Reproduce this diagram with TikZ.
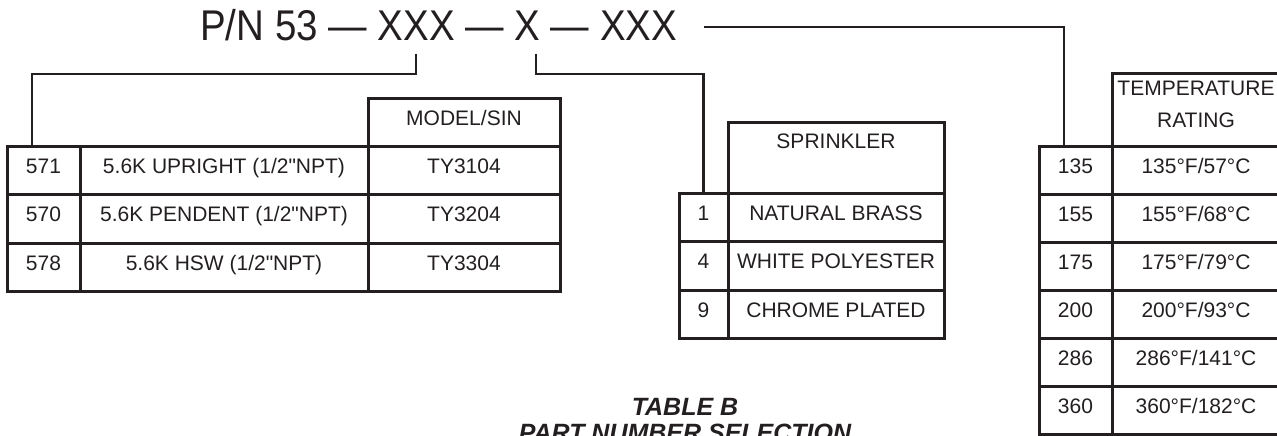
\documentclass[tikz,border=0pt]{standalone}
\usepackage{fontspec}
\setmainfont{Liberation Sans}
\usepackage{graphicx}
\definecolor{ink}{RGB}{35,31,32}
\newcommand\tabfnt{\fontsize{21}{32}\selectfont}
\newcommand\titfnt{\fontsize{43}{50}\selectfont}
\newcommand\capfnt{\fontsize{25}{26}\selectfont\bfseries\itshape}
\newcommand\sq{\XeTeXglyph\XeTeXcharglyph"22\relax}
\begin{document}
\begin{tikzpicture}[x=1pt,y=-1pt,
  cell/.style={draw=ink, line width=3pt, inner sep=0pt, text height=15pt, text depth=9pt, font=\tabfnt, text=ink},
  conn/.style={draw=ink, line width=2.2pt},
  lbl/.style={inner sep=0pt, font=\tabfnt, text=ink, align=center}]
\useasboundingbox (0,0) rectangle (1277,436);
\clip (0,0) rectangle (1277,436);

% title
\node[anchor=base west, inner sep=0pt, font=\titfnt, text=ink] (title) at (200,41) {\scalebox{0.895}[1]{P/N 53 — XXX — X — XXX}};

% connector ends
\coordinate (k1) at (416,54);
\coordinate (j1) at (32,146);
\coordinate (k2) at (536,54);
\coordinate (k3) at (704,27);
\coordinate (j3) at (1064,146);

% left table
\node[cell, minimum width=192pt, minimum height=48pt] (ah) at (464,122) {MODEL/SIN};
\node[cell, minimum width=73pt, minimum height=48.5pt] (a1) at (43.5,170.25) {571};
\node[cell, minimum width=288pt, minimum height=48.5pt] (a2) at (224,170.25) {5.6K UPRIGHT (1/2\sq NPT)};
\node[cell, minimum width=192pt, minimum height=48.5pt] (a3) at (464,170.25) {TY3104};
\node[cell, minimum width=73pt, minimum height=48.5pt] (b1) at (43.5,218.75) {570};
\node[cell, minimum width=288pt, minimum height=48.5pt] (b2) at (224,218.75) {5.6K PENDENT (1/2\sq NPT)};
\node[cell, minimum width=192pt, minimum height=48.5pt] (b3) at (464,218.75) {TY3204};
\node[cell, minimum width=73pt, minimum height=48.5pt] (c1) at (43.5,267.25) {578};
\node[cell, minimum width=288pt, minimum height=48.5pt] (c2) at (224,267.25) {5.6K HSW (1/2\sq NPT)};
\node[cell, minimum width=192pt, minimum height=48.5pt] (c3) at (464,267.25) {TY3304};

% sprinkler table
\node[cell, minimum width=216pt, minimum height=71pt, text depth=33pt] (sh) at (836,157.5) {SPRINKLER};
\node[cell, minimum width=49pt, minimum height=48.5pt] (s1) at (703.5,217.25) {1};
\node[cell, minimum width=216pt, minimum height=48.5pt] (s1t) at (836,217.25) {NATURAL BRASS};
\node[cell, minimum width=49pt, minimum height=48.5pt] (s4) at (703.5,265.75) {4};
\node[cell, minimum width=216pt, minimum height=48.5pt] (s4t) at (836,265.75) {WHITE POLYESTER};
\node[cell, minimum width=49pt, minimum height=48.5pt] (s9) at (703.5,314.25) {9};
\node[cell, minimum width=216pt, minimum height=48.5pt] (s9t) at (836,314.25) {CHROME PLATED};

% temperature table
\node[cell, minimum width=168pt, minimum height=72pt] (th) at (1196,110) {};
\node[lbl] (tht) at (1196,104) {TEMPERATURE\\RATING};
\node[cell, minimum width=73pt, minimum height=48pt] (t1) at (1075.5,170) {135};
\node[cell, minimum width=168pt, minimum height=48pt] (t1t) at (1196,170) {135°F/57°C};
\node[cell, minimum width=73pt, minimum height=48pt] (t2) at (1075.5,218) {155};
\node[cell, minimum width=168pt, minimum height=48pt] (t2t) at (1196,218) {155°F/68°C};
\node[cell, minimum width=73pt, minimum height=48pt] (t3) at (1075.5,266) {175};
\node[cell, minimum width=168pt, minimum height=48pt] (t3t) at (1196,266) {175°F/79°C};
\node[cell, minimum width=73pt, minimum height=48pt] (t4) at (1075.5,314) {200};
\node[cell, minimum width=168pt, minimum height=48pt] (t4t) at (1196,314) {200°F/93°C};
\node[cell, minimum width=73pt, minimum height=48pt] (t5) at (1075.5,362) {286};
\node[cell, minimum width=168pt, minimum height=48pt] (t5t) at (1196,362) {286°F/141°C};
\node[cell, minimum width=73pt, minimum height=48pt] (t6) at (1075.5,410) {360};
\node[cell, minimum width=168pt, minimum height=48pt] (t6t) at (1196,410) {360°F/182°C};

% connectors
\draw[conn] (k1) -- ++(0,20) -| (j1);
\draw[conn] (k2) -- ++(0,20) -| (s1.north);
\draw[conn] (k3) -| (j3);

% caption
\node[anchor=base, inner sep=0pt, font=\capfnt, text=ink] (cap1) at (685,415) {TABLE B};
\node[anchor=base, inner sep=0pt, font=\capfnt, text=ink] (cap2) at (685,441) {PART NUMBER SELECTION};
\end{tikzpicture}
\end{document}
